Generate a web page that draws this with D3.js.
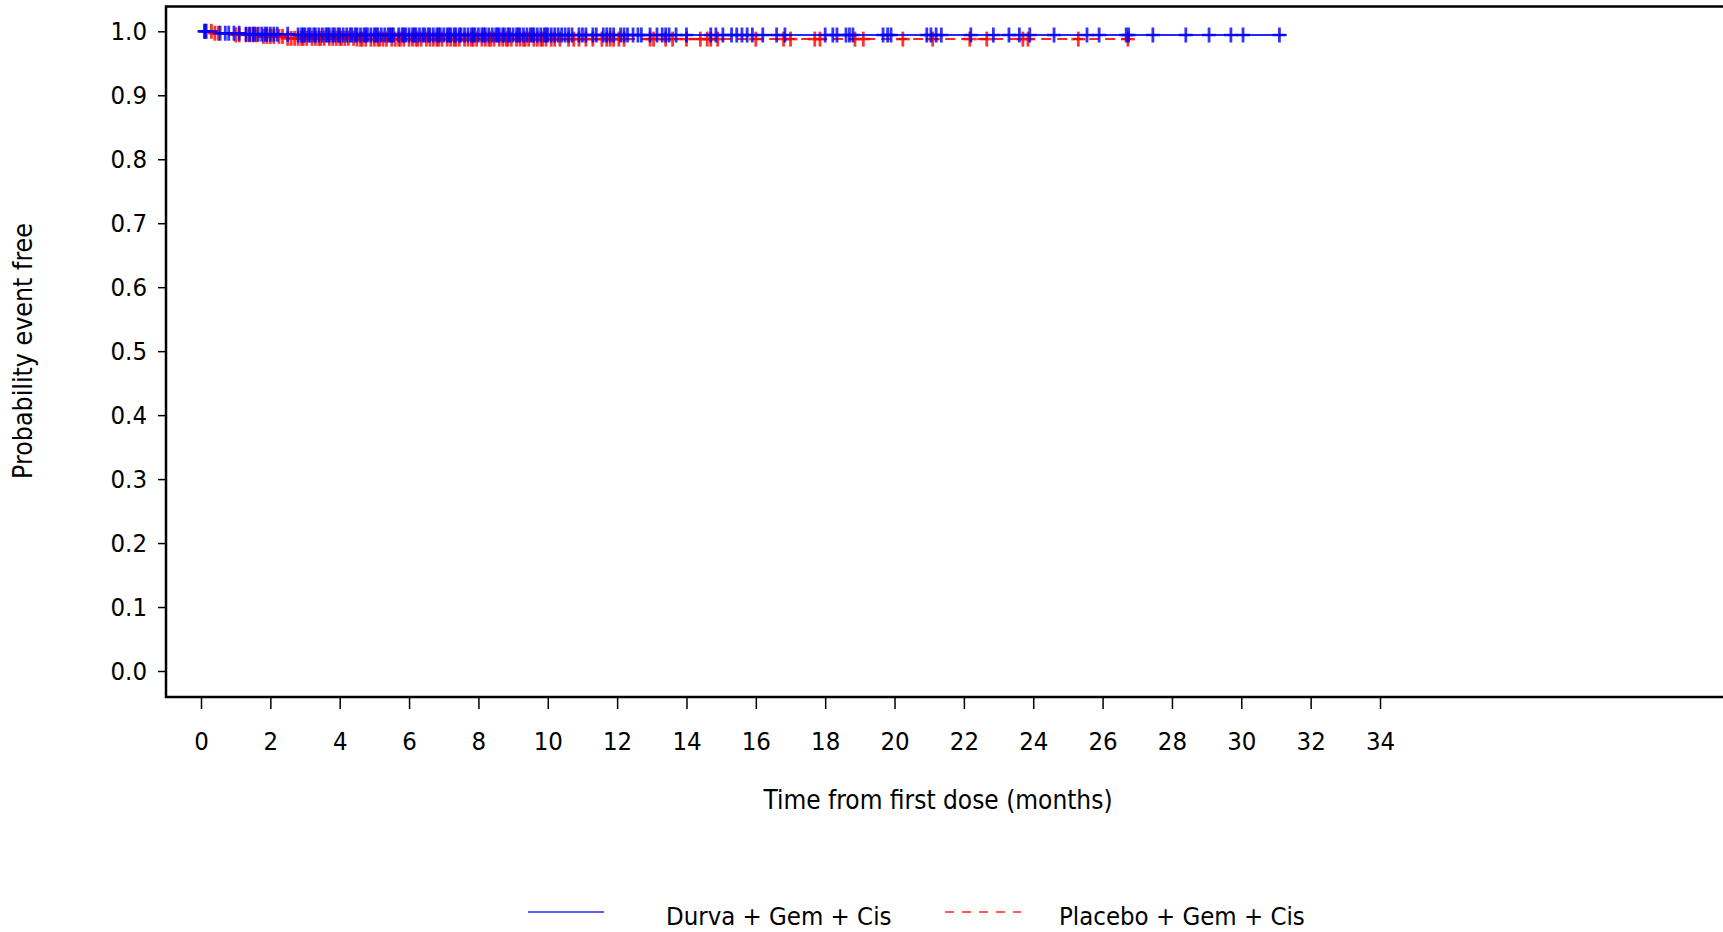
<!DOCTYPE html>
<html>
<head>
<meta charset="utf-8">
<script src="https://cdn.jsdelivr.net/npm/d3@7"></script>
<style>
  html, body { margin: 0; padding: 0; background: #fff; }
  svg { display: block; }
  text { font-family: "DejaVu Sans Condensed", "DejaVu Sans", sans-serif; font-stretch: condensed; fill: #000; }
</style>
</head>
<body>
<svg id="chart" width="1723" height="932"></svg>
<script>
// Kaplan-Meier estimates: step times (months) and probability event free
const seriesNames = ["Durva + Gem + Cis", "Placebo + Gem + Cis"];

const durvaStepTimes = [0, 0.45, 1.3, 2.7];
const durvaStepSurv  = [1.0, 0.997, 0.9955, 0.9942];
const durvaLastTime  = 31.3;

const placeboStepTimes = [0, 0.35, 0.9, 1.7, 2.5, 4.5];
const placeboStepSurv  = [1.0, 0.997, 0.9945, 0.992, 0.989, 0.9878];
const placeboLastTime  = 27.0;

// Censoring times (months)
const durvaCensored = [
  0.1, 0.12, 0.15, 0.55, 0.7, 0.8, 0.95, 1.1, 1.3, 1.4, 1.5, 1.55, 1.65, 1.75, 1.85, 1.9, 2.0, 2.1, 2.2, 2.5,
  2.8, 2.9, 2.95, 3.0, 3.1, 3.15, 3.25, 3.3, 3.4, 3.5, 3.6, 3.65, 3.7, 3.8, 3.85, 3.95, 4.0, 4.1, 4.2, 4.3, 4.35, 4.45, 4.5, 4.6, 4.7,
  4.75, 4.8, 4.9, 5.0, 5.05, 5.1, 5.2, 5.3, 5.4, 5.45, 5.5, 5.55, 5.7, 5.8, 5.85, 5.9, 6.0, 6.1, 6.15, 6.2, 6.3, 6.4, 6.45, 6.55, 6.6, 6.7,
  6.8, 6.85, 6.9, 7.0, 7.1, 7.15, 7.2, 7.3, 7.35, 7.45, 7.5, 7.6, 7.7, 7.8, 7.85, 7.9, 8.0, 8.1, 8.15, 8.2, 8.3, 8.4, 8.5, 8.55, 8.6, 8.7,
  8.75, 8.85, 8.9, 9.0, 9.1, 9.15, 9.2, 9.3, 9.4, 9.5, 9.55, 9.6, 9.7, 9.8, 9.9, 9.95, 10.0, 10.1, 10.2, 10.3, 10.4, 10.5, 10.6,
  10.7, 10.9, 11.0, 11.1, 11.3, 11.4, 11.6, 11.7, 11.8, 11.9, 12.1, 12.2, 12.3, 12.46,
  12.6, 12.7, 12.95, 13.15, 13.3, 13.4, 13.5, 13.7, 14.0, 14.7, 14.85, 15.05, 15.3, 15.45, 15.6, 15.75,
  15.9, 16.2, 16.6, 16.84, 18.0, 18.22, 18.34, 18.6, 18.7, 18.8, 19.67, 19.8, 19.9, 20.93, 21.05, 21.2,
  21.35, 22.2, 22.85, 23.3, 23.6, 23.9, 24.6, 25.55, 25.9, 26.68, 26.75, 27.45, 28.4, 29.07, 29.7, 30.05, 31.1
];
const placeboCensored = [
  0.3, 0.4, 0.5, 1.0, 1.1, 1.3, 1.4, 1.5, 1.6, 1.8, 1.9, 2.0, 2.1, 2.25, 2.35, 2.5,
  2.6, 2.7, 2.8, 2.9, 2.95, 3.05, 3.2, 3.3, 3.4, 3.45, 3.55, 3.7, 3.8, 3.9, 4.0, 4.05, 4.15, 4.25, 4.4, 4.5, 4.6, 4.65, 4.75,
  4.9, 5.0, 5.1, 5.15, 5.25, 5.35, 5.5, 5.6, 5.7, 5.75, 5.85, 6.0, 6.1, 6.2, 6.25, 6.35, 6.5, 6.6, 6.7, 6.8, 6.85, 6.95, 7.1,
  7.2, 7.3, 7.35, 7.45, 7.6, 7.7, 7.8, 7.85, 7.95, 8.1, 8.2, 8.3, 8.35, 8.45, 8.6, 8.7, 8.8, 8.85, 8.95, 9.1, 9.2, 9.3, 9.35, 9.45,
  9.6, 9.7, 9.8, 9.85, 9.95, 10.1, 10.2, 10.35, 10.6, 10.75, 10.9, 11.1, 11.3,
  11.56, 11.7, 11.8, 11.9, 12.05, 12.2, 12.95, 13.05, 13.4, 13.6, 14.0, 14.4, 14.6, 14.7, 14.9, 16.0,
  16.8, 17.0, 17.7, 17.85, 18.86, 19.1, 20.24, 21.1, 22.17, 22.66, 23.7, 23.85, 25.3, 26.73
];

const xTicks = [0, 2, 4, 6, 8, 10, 12, 14, 16, 18, 20, 22, 24, 26, 28, 30, 32, 34];
const yTicks = [0, 0.1, 0.2, 0.3, 0.4, 0.5, 0.6, 0.7, 0.8, 0.9, 1.0];

const svg = d3.select("#chart");
const x = d3.scaleLinear().domain([0, 34]).range([201, 1380]);
const y = d3.scaleLinear().domain([0, 1]).range([671, 31.3]);

// plot frame (left, top and bottom edges; open on the right)
svg.append("path")
  .attr("d", "M1730,6.5H166V697H1730")
  .attr("fill", "none").attr("stroke", "#000").attr("stroke-width", 2.5);

// axes
const yAxis = svg.append("g").attr("transform", "translate(166,0)")
  .call(d3.axisLeft(y).tickValues(yTicks).tickSize(8).tickPadding(11).tickFormat(d3.format(".1f")));
const xAxis = svg.append("g").attr("transform", "translate(0,697)")
  .call(d3.axisBottom(x).tickValues(xTicks).tickSize(12).tickPadding(23).tickFormat(d3.format("d")));
[yAxis, xAxis].forEach(g => {
  g.select(".domain").remove();
  g.selectAll(".tick line").attr("stroke", "#000").attr("stroke-width", 1.5);
  g.selectAll(".tick text").attr("font-size", 25.5).attr("font-family", null);
});

// axis titles
svg.append("text").attr("x", 938).attr("y", 809).attr("text-anchor", "middle")
  .attr("font-size", 26).text("Time from first dose (months)");
svg.append("text").attr("transform", "translate(32,351) rotate(-90)").attr("text-anchor", "middle")
  .attr("font-size", 26.5).text("Probability event free");

function survAt(times, surv, t) {
  const i = d3.bisectRight(times, t) - 1;
  return surv[Math.max(0, i)];
}

function drawArm(times, surv, last, censored, color, dash) {
  const pts = times.map((t, i) => [t, surv[i]]);
  pts.push([last, surv[surv.length - 1]]);
  const line = d3.line().x(d => x(d[0])).y(d => y(d[1])).curve(d3.curveStepAfter);
  const g = svg.append("g");
  g.append("path").attr("d", line(pts)).attr("fill", "none")
    .attr("stroke", color).attr("stroke-width", 2).attr("stroke-opacity", 0.85)
    .attr("stroke-dasharray", dash);
  const m = g.selectAll("g.cens").data(censored).join("g").attr("class", "cens")
    .attr("transform", d => `translate(${x(d)},${y(survAt(times, surv, d))})`);
  m.append("line").attr("x1", 0).attr("x2", 0).attr("y1", -7.5).attr("y2", 7.5)
    .attr("stroke", color).attr("stroke-width", 2.8).attr("stroke-opacity", 0.8);
  m.append("line").attr("x1", -7) .attr("x2", 7).attr("y1", 0).attr("y2", 0)
    .attr("stroke", color).attr("stroke-width", 2.5).attr("stroke-opacity", 0.8);
}

drawArm(placeboStepTimes, placeboStepSurv, placeboLastTime, placeboCensored, "#ff0000", "10,6");
drawArm(durvaStepTimes, durvaStepSurv, durvaLastTime, durvaCensored, "#0000ff", null);

// legend
const legend = [
  { name: seriesNames[0], color: "#0000ff", dash: null, x0: 528, tx: 666 },
  { name: seriesNames[1], color: "#ff0000", dash: "9,8", x0: 945, tx: 1059 }
];
legend.forEach(l => {
  svg.append("line").attr("x1", l.x0).attr("x2", l.x0 + 76).attr("y1", 912).attr("y2", 912)
    .attr("stroke", l.color).attr("stroke-width", 1.5).attr("stroke-opacity", 0.85)
    .attr("stroke-dasharray", l.dash);
  svg.append("text").attr("x", l.tx).attr("y", 925).attr("font-size", 25.5).text(l.name);
});
</script>
</body>
</html>
